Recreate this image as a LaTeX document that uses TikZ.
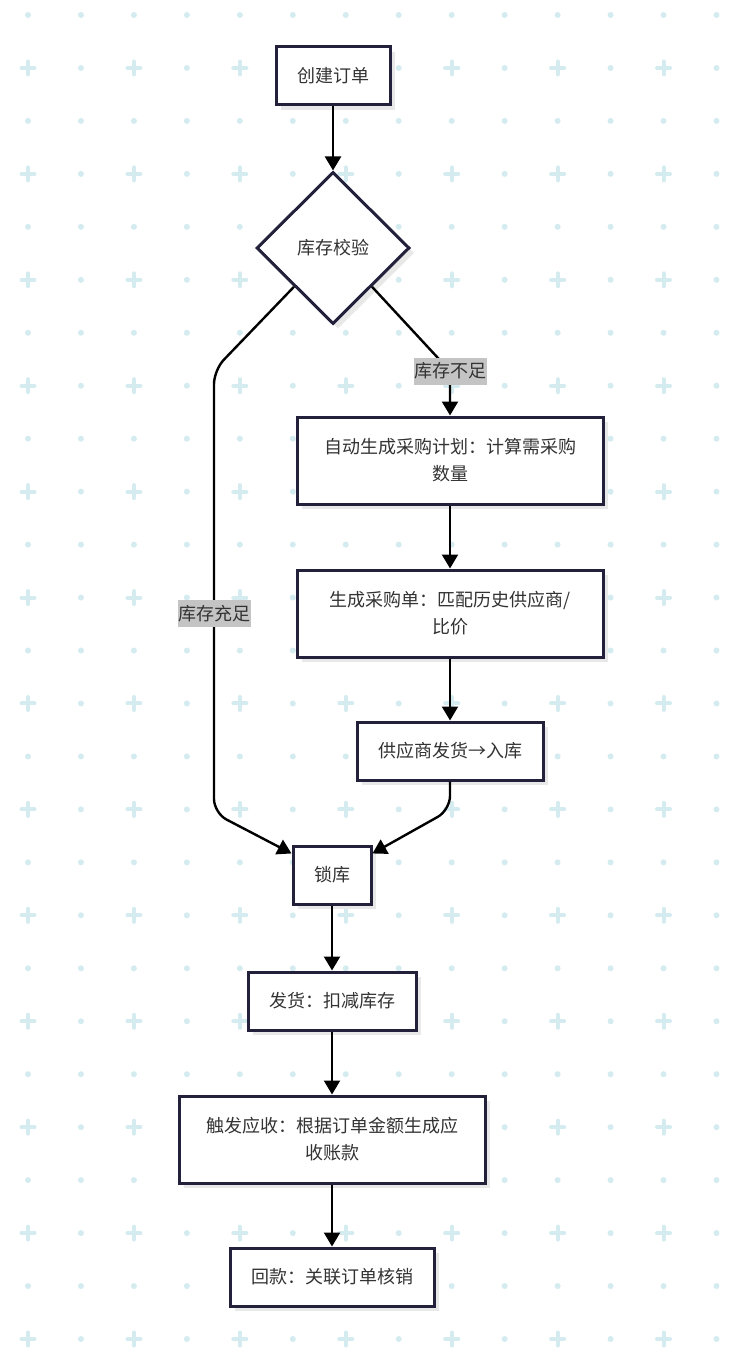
\documentclass[tikz,border=0pt]{standalone}
\usepackage{fontspec}
\setmainfont{Noto Sans CJK SC}
\usetikzlibrary{positioning,shapes.geometric,arrows.meta,shadows,calc}
\definecolor{gridcyan}{HTML}{D4ECF0}
\definecolor{boxline}{HTML}{22203A}
\definecolor{inktext}{HTML}{333333}
\definecolor{labelgray}{HTML}{C4C4C4}

\begin{document}
\begin{tikzpicture}
    [x=1pt,y=-1pt,
    every node/.style={font=\fontsize{18}{27}\selectfont,text=inktext},
    box shadow/.style={drop shadow={shadow xshift=5pt,shadow yshift=-5pt,fill=black!9,draw=none,opacity=1}},
    process/.style={rectangle,draw=boxline,line width=3pt,fill=white,inner xsep=21pt,minimum height=58pt,box shadow},
    wide process/.style={process,minimum width=306pt,minimum height=87pt,align=center},
    decision/.style={diamond,aspect=1,draw=boxline,line width=3pt,fill=white,minimum width=153pt,minimum height=152pt,inner sep=0pt,box shadow},
    branch label/.style={sharp corners,fill=labelgray,inner xsep=0.5pt,inner ysep=0pt,minimum height=27pt},
    flow/.style={line width=2.4pt,-{Triangle[length=14pt,width=16pt]},rounded corners=14pt},
    gridmark/.style={gridcyan,line width=4pt,line cap=round}]

    \path[use as bounding box,fill=white] (0,0) rectangle (738,1364);

    % background grid
    \foreach \j in {0,...,25}{
        \foreach \i in {0,...,13}{
            \pgfmathtruncatemacro\iscross{and(mod(\j,2)==1,mod(\i,2)==0)}
            \ifnum\iscross=1
                \draw[gridmark] (28+52.96*\i-6.5,15+52.96*\j) -- ++(13,0)
                    (28+52.96*\i,15+52.96*\j-6.5) -- ++(0,13);
            \else
                \fill[gridcyan] (28+52.96*\i,15+52.96*\j) circle (3pt);
            \fi
        }
    }

    \node[process] (Order) at (333,76) {创建订单};
    \node[decision] (Check) [below=64pt of Order] {库存校验};
    \node[wide process] (Plan) at (450,460.5) {自动生成采购计划：计算需采购\\数量};
    \node[wide process] (PurchaseOrder) [below=63pt of Plan] {生成采购单：匹配历史供应商/\\比价};
    \node[process] (Delivery) [below=62pt of PurchaseOrder] {供应商发货→入库};
    \node[process] (Lock) [below=63pt of Delivery, xshift=-118pt] {锁库};
    \node[process] (Ship) [below=65pt of Lock] {发货：扣减库存};
    \node[wide process] (Receivable) [below=63pt of Ship] {触发应收：根据订单金额生成应\\收账款};
    \node[process] (Payment) [below=62pt of Receivable] {回款：关联订单核销};

    \coordinate (shortBend) at (450,371);
    \coordinate (enoughTop) at (214,370);
    \coordinate (enoughFoot) at (214,813);
    \coordinate (arrivalFoot) at (450,810);

    \draw[flow] (Order) -- (Check);
    \draw[flow] ($(Check.east)!.5!(Check.south)$) -- (shortBend) node[branch label] {库存不足} -- (Plan.north);
    \draw[flow] ($(Check.west)!.5!(Check.south)$) -- (enoughTop)
        -- node[branch label,pos=.55] {库存充足} (enoughFoot) -- (Lock.152);
    \draw[flow] (Plan) -- (PurchaseOrder);
    \draw[flow] (PurchaseOrder) -- (Delivery);
    \draw[flow] (Delivery.south) -- (arrivalFoot) -- (Lock.28);
    \draw[flow] (Lock) -- (Ship);
    \draw[flow] (Ship) -- (Receivable);
    \draw[flow] (Receivable) -- (Payment);
\end{tikzpicture}
\end{document}
